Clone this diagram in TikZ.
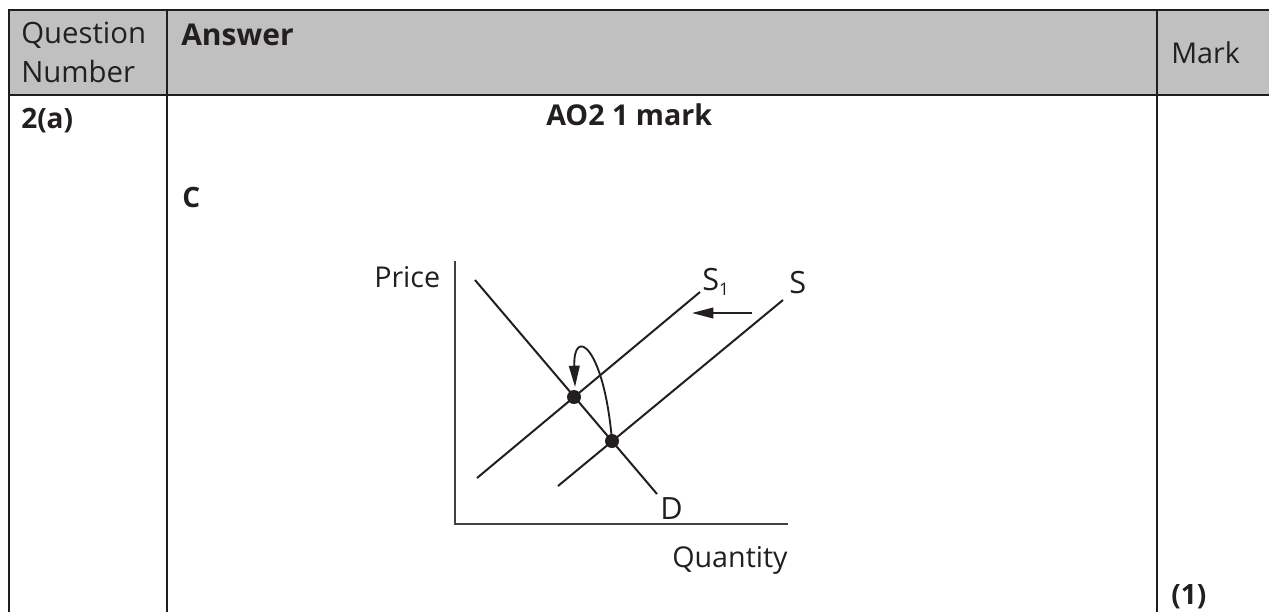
\documentclass[tikz,border=0pt]{standalone}
\usepackage{fontspec}
\setmainfont{Open Sans}
\usepackage{xcolor}
\usepackage{tikz}
\usetikzlibrary{arrows.meta, positioning, calc}
\definecolor{headgray}{RGB}{192, 192, 192}
\definecolor{rulegray}{RGB}{30, 30, 30}
\definecolor{inkgray}{RGB}{35, 31, 32}

\begin{document}
\begin{tikzpicture}[x=0.75pt, y=-0.75pt,
    txt/.style={anchor=base west, inner sep=0pt, text=inkgray, font=\fontsize{21.5}{25}\selectfont},
    boldtxt/.style={txt, font=\fontsize{21}{25}\selectfont\bfseries},
    rule/.style={line width=1.6pt, draw=rulegray},
    curve/.style={line width=1.5pt, draw=inkgray},
    axis/.style={line width=1.6pt, draw=inkgray!85},
    eqdot/.style={circle, fill=inkgray, inner sep=0pt, minimum size=10.5pt},
    shiftarr/.style={line width=1.4pt, draw=inkgray, -{Triangle[length=16pt, width=8pt]}}]
\useasboundingbox (0,0) rectangle (1269,612);

% table frame
\fill[headgray] (9,10) rectangle (1269,95);
\draw[rule] (1269,10) -- (9,10) -- (9,612);
\draw[rule] (9,95) -- (1269,95);
\draw[rule] (167,10) -- (167,612);
\draw[rule] (1157,10) -- (1157,612);

\node[txt, font=\fontsize{22}{26}\selectfont] (qline) at (21,43) {Question};
\node[txt, font=\fontsize{22}{26}\selectfont] (nline) at (21,82) {Number};
\node[boldtxt, font=\fontsize{22.5}{27}\selectfont\bfseries] (ans) at (181,45) {Answer};
\node[txt] (mark) at (1171,63) {Mark};
\node[boldtxt] (qnum) at (21,128) {2(a)};
\node[boldtxt, font=\fontsize{21.5}{25}\selectfont\bfseries] (ao) at (546,125) {AO2 1 mark};
\node[boldtxt] (key) at (182,207) {C};
\node[boldtxt] (marks) at (1171,604) {(1)};

% supply and demand
\coordinate (origin) at (455,524);
\coordinate (ytop) at (455,261);
\coordinate (xend) at (788,524);
\draw[axis] (ytop) -- (origin) -- (xend);
\node[txt] (price) at (374,287) {Price};
\node[txt] (qty) at (672,567) {Quantity};

\coordinate (dtop) at (475,280);
\coordinate (dbot) at (657,494);
\coordinate (s1lo) at (477,478);
\coordinate (s1hi) at (700,292);
\coordinate (slo) at (558,486);
\coordinate (shi) at (783,300);
\draw[curve] (dtop) -- (dbot);
\draw[curve] (s1lo) -- (s1hi);
\draw[curve] (slo) -- (shi);
\node[txt, font=\fontsize{23}{26}\selectfont] (dlab) at (660,519) {D};
\node[txt, font=\fontsize{23}{26}\selectfont] (s1lab) at (702,290) {S\raisebox{-4pt}{\fontsize{13}{13}\selectfont 1}};
\node[txt, font=\fontsize{23}{26}\selectfont] (slab) at (789,293) {S};

\node[eqdot] (e1) at (574,397) {};
\node[eqdot] (e2) at (612,441) {};

\coordinate (arrtail) at (752,313);
\coordinate (arrhead) at (692,313);
\draw[shiftarr] (arrtail) -- (arrhead);
\coordinate (tip) at (575,387);
\draw[shiftarr] (e2.center) .. controls (604,345) and (573,326) .. (tip);
\end{tikzpicture}
\end{document}
